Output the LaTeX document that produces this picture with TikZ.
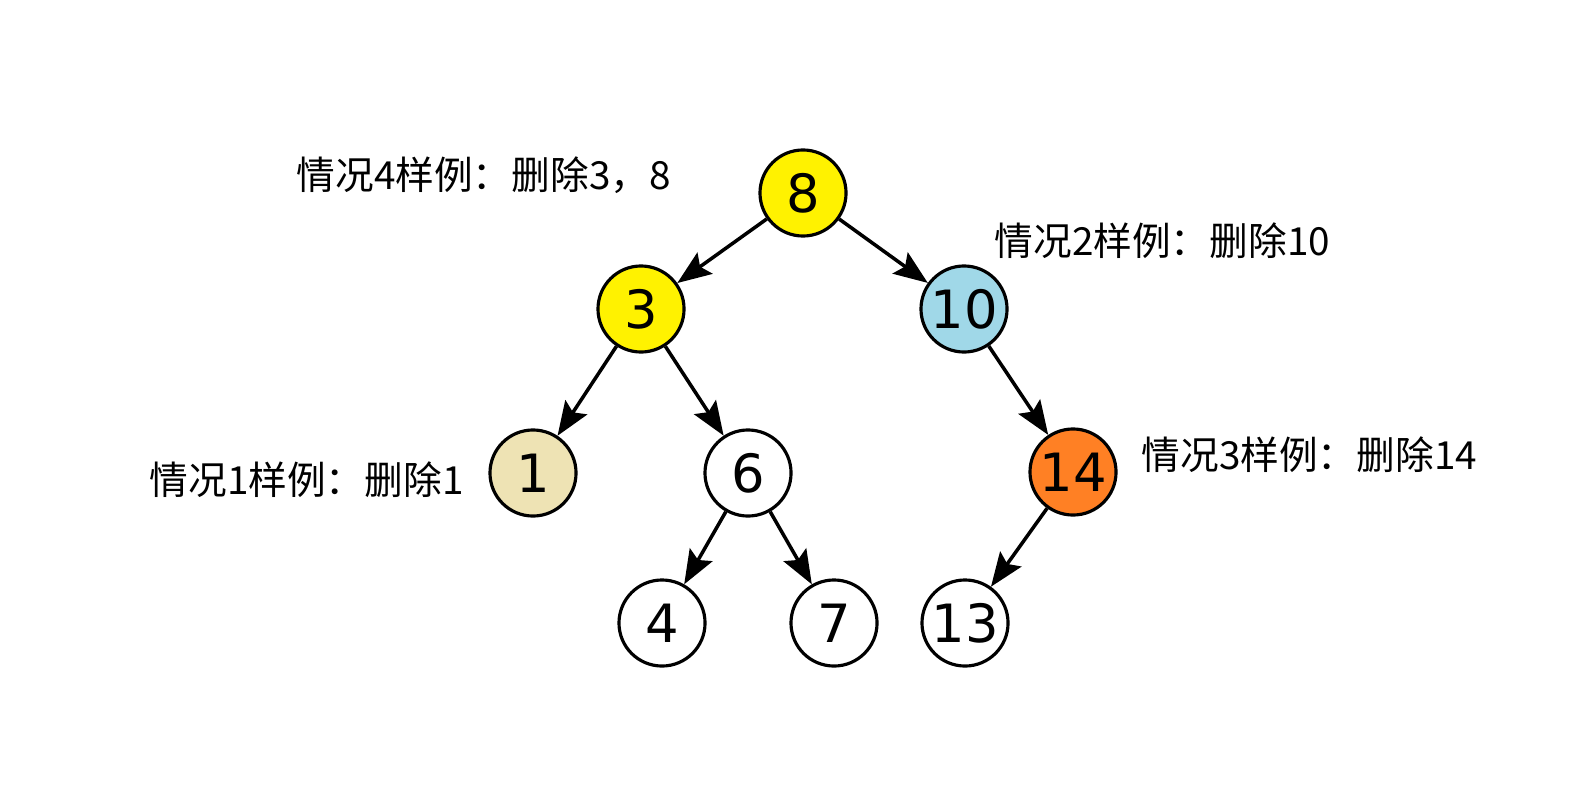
\documentclass[tikz,border=0pt]{standalone}
\usepackage{fontspec}
\setmainfont{DejaVu Sans}
\newfontfamily\cjk{Noto Sans CJK SC}
\usetikzlibrary{arrows.meta}
\definecolor{keyyellow}{RGB}{255,242,0}
\definecolor{keyblue}{RGB}{160,216,232}
\definecolor{keytan}{RGB}{238,227,180}
\definecolor{keyorange}{RGB}{255,128,36}
\begin{document}
\begin{tikzpicture}[x=0.01cm,y=-0.01cm,>={Stealth[length=3.4mm,width=2.6mm,inset=0.6mm]},line width=1pt,
    key/.style={draw, circle, line width=0.9pt, minimum size=0.86cm, inner sep=0pt, fill=white, font=\fontsize{15}{15}\selectfont},
    note/.style={font=\cjk\fontsize{11}{13}\selectfont, anchor=west, inner sep=0pt}]
        \useasboundingbox (0,0) rectangle (1589,794);
        % tree
        \node (n8) [key, fill=keyyellow] at (803,193) {8};
        \node (n3) [key, fill=keyyellow] at (641,309) {3};
        \node (n10) [key, fill=keyblue] at (964,309) {10};
        \node (n1) [key, fill=keytan] at (533,473) {1};
        \node (n6) [key] at (748,473) {6};
        \node (n14) [key, fill=keyorange] at (1073,472) {14};
        \node (n4) [key] at (662,623) {4};
        \node (n7) [key] at (834,623) {7};
        \node (n13) [key] at (965,623) {13};

        \draw[->] (n8) -- (n3);
        \draw[->] (n8) -- (n10);
        \draw[->] (n3) -- (n1);
        \draw[->] (n3) -- (n6);
        \draw[->] (n10) -- (n14);
        \draw[->] (n6) -- (n4);
        \draw[->] (n6) -- (n7);
        \draw[->] (n14) -- (n13);

        % cases
        \node (c4) [note] at (295,175) {情况4样例：删除3，8};
        \node (c2) [note] at (993,241) {情况2样例：删除10};
        \node (c1) [note] at (148,480) {情况1样例：删除1};
        \node (c3) [note] at (1140,455) {情况3样例：删除14};
    \end{tikzpicture}
\end{document}
